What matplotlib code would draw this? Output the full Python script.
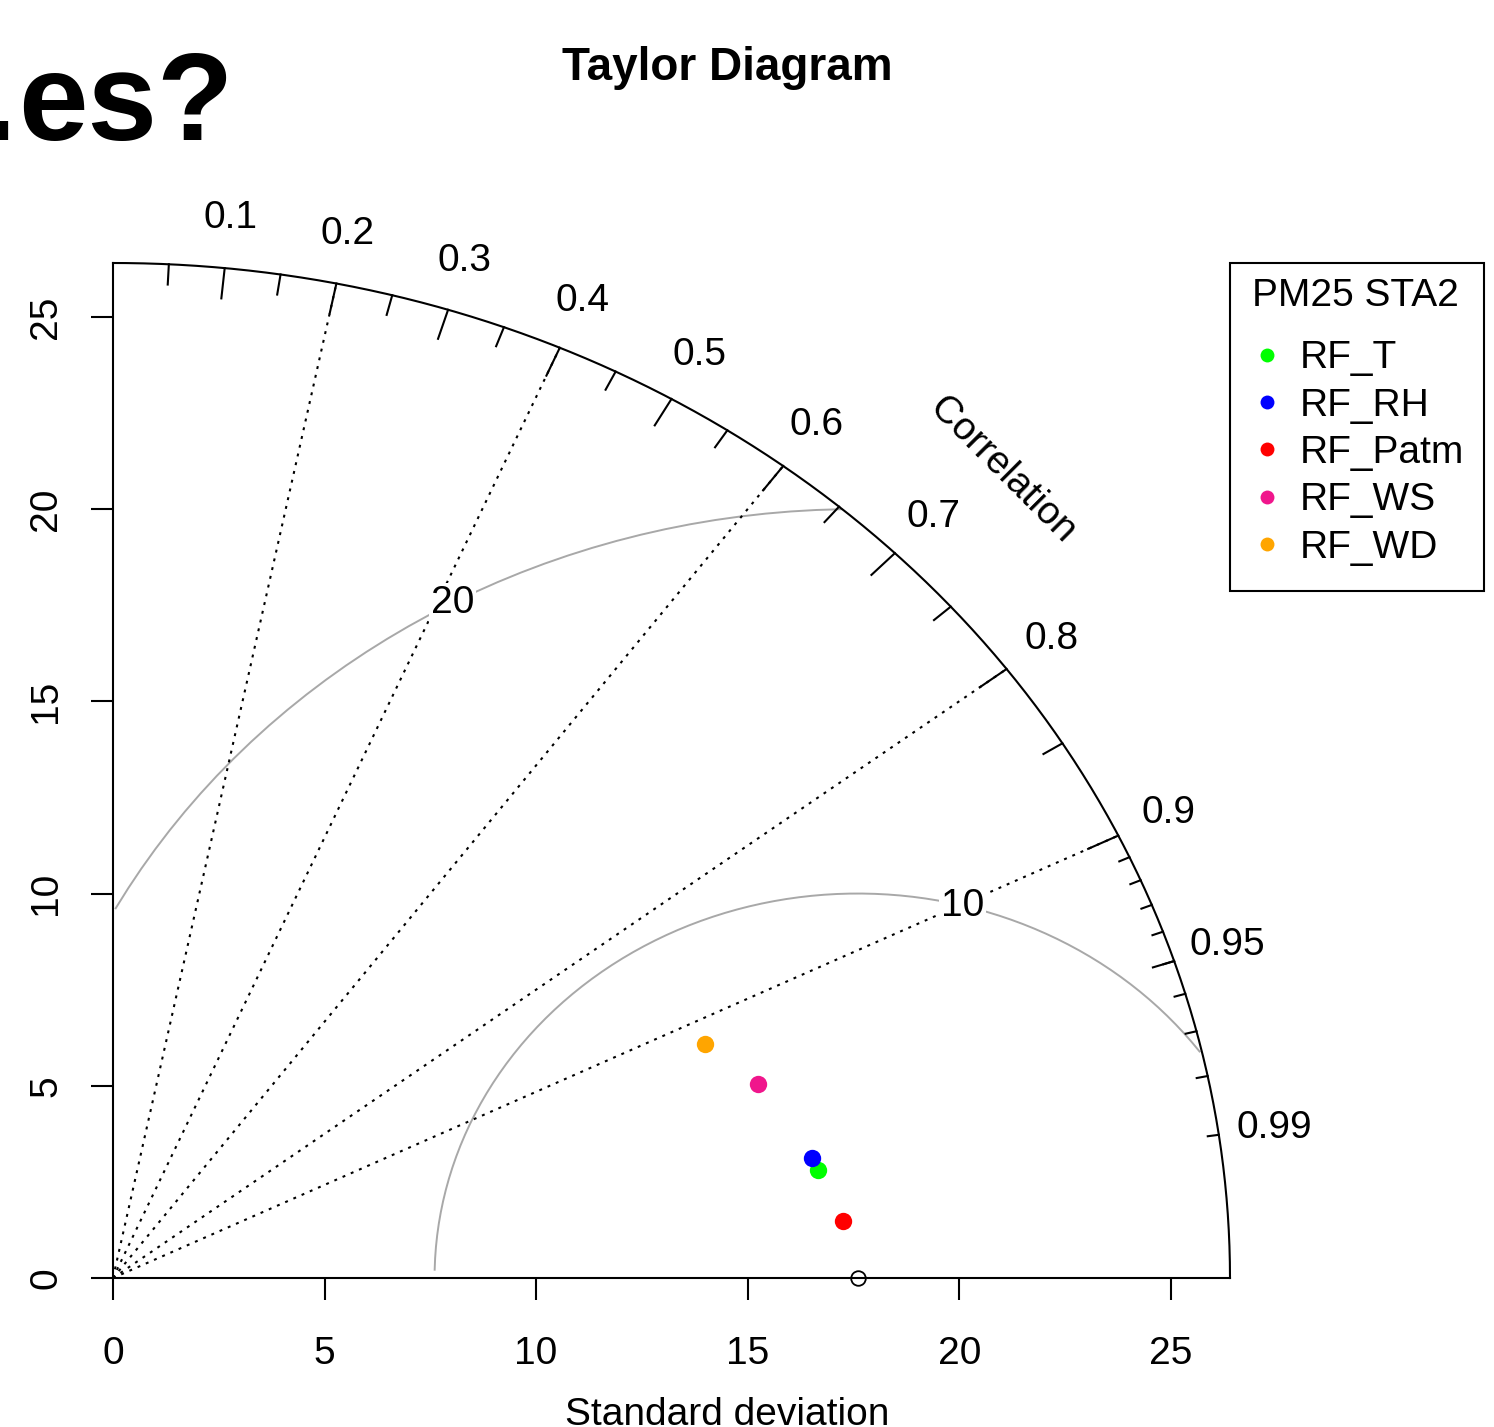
import numpy as np
import matplotlib
matplotlib.use('Agg')
import matplotlib.pyplot as plt
from matplotlib.lines import Line2D
from matplotlib.patches import Rectangle

plt.rcParams['font.family'] = ['Liberation Sans', 'DejaVu Sans']

# ---- data ----
models = ['RF_T', 'RF_RH', 'RF_Patm', 'RF_WS', 'RF_WD']
model_sd = [16.91, 16.82, 17.31, 16.05, 15.26]
model_corr = [0.986, 0.9827, 0.9963, 0.9493, 0.9167]
model_colors = ['#00FF00', '#0000FF', '#FF0000', '#F0168C', '#FFA500']
ref_sd = 17.6
legend_title = 'PM25 STA2'
sd_ticks = [0, 5, 10, 15, 20, 25]
corr_grid = [0.2, 0.4, 0.6, 0.8, 0.9]
corr_labels = [0.1, 0.2, 0.3, 0.4, 0.5, 0.6, 0.7, 0.8, 0.9, 0.95, 0.99]
big_ticks = [0.1, 0.2, 0.3, 0.4, 0.5, 0.6, 0.7, 0.8, 0.9]
med_ticks = [0.05, 0.15, 0.25, 0.35, 0.45, 0.55, 0.65, 0.75, 0.85, 0.95]
sml_ticks = [0.91, 0.92, 0.93, 0.94, 0.95, 0.96, 0.97, 0.98, 0.99]
rms_levels = [10, 20]
rms_label_idx = [44, 69]

W, H = 1494, 1427
fig = plt.figure(figsize=(W / 100, H / 100), dpi=100)
fig.patch.set_facecolor('white')

maxsd = 1.5 * ref_sd
FS = 28

ax = fig.add_axes([113 / W, (H - 1278) / H, (1230 - 113) / W, (1278 - 263) / H])
ax.set_xlim(0, maxsd)
ax.set_ylim(0, maxsd)
for s in ['top', 'right']:
    ax.spines[s].set_visible(False)
for s in ['left', 'bottom']:
    ax.spines[s].set_linewidth(1.5)
ax.set_xticks(sd_ticks)
ax.set_yticks(sd_ticks)
ax.tick_params(length=16, width=1.5, labelsize=FS)
ax.tick_params(axis='x', pad=26)
ax.tick_params(axis='y', pad=19)
for lab in ax.get_yticklabels():
    lab.set_rotation(90)
    lab.set_va('center')

# outer arc
th = np.linspace(0, np.pi / 2, 400)
ax.plot(maxsd * np.cos(th), maxsd * np.sin(th), color='black', lw=1.5, clip_on=False, zorder=3)

# correlation ticks
def tick(vals, frac):
    for c in vals:
        a = np.arccos(c)
        ax.plot([maxsd * np.cos(a), frac * maxsd * np.cos(a)],
                [maxsd * np.sin(a), frac * maxsd * np.sin(a)],
                color='black', lw=1.5, clip_on=False, zorder=3)
tick(big_ticks, 0.97)
tick(med_ticks, 0.98)
tick(sml_ticks, 0.99)

for c in corr_labels:
    a = np.arccos(c)
    ax.text(1.05 * maxsd * np.cos(a), 1.05 * maxsd * np.sin(a), str(c),
            ha='center', va='center', fontsize=FS, clip_on=False)

ax.text(0.8 * maxsd - 0.1, 0.8 * maxsd - 0.1, 'Correlation', rotation=-45,
        rotation_mode='anchor', ha='center', va='center', fontsize=FS)

# correlation radial lines
for c in corr_grid:
    ax.plot([0, maxsd * c], [0, maxsd * np.sqrt(1 - c * c)], color='black',
            lw=1.5, linestyle=(0, (1.4, 2.9)), clip_on=False, zorder=2)

# RMS arcs
ang = np.arange(0, np.pi, 0.03)
for g, lp in zip(rms_levels, rms_label_idx):
    xc = np.cos(ang) * g + ref_sd
    yc = np.sin(ang) * g
    neg = np.where(xc < 0)[0]
    end = neg.min() - 1 if len(neg) else len(ang) - 1
    out = np.where(xc * xc + yc * yc > maxsd * maxsd)[0]
    start = out.max() + 1 if len(out) else 0
    ax.plot(xc[start:end + 1], yc[start:end + 1], color='#a8a8a8', lw=1.4, zorder=1)
    ax.text(xc[lp], yc[lp], str(g), ha='center', va='center', fontsize=FS, zorder=4,
            bbox=dict(facecolor='white', edgecolor='none', pad=1.5))

# points
for sd, cr, col in zip(model_sd, model_corr, model_colors):
    ax.plot([sd * cr], [sd * np.sqrt(1 - cr * cr)], marker='o', ms=12.5, color=col,
            mew=0, linestyle='none', zorder=5, clip_on=False)
ax.plot([ref_sd], [0], marker='o', ms=10.5, mfc='none', mec='black', mew=1.3,
        linestyle='none', zorder=5, clip_on=False)

# labels
fig.text(727 / W, 1 - 1425 / H, 'Standard deviation', ha='center', va='baseline',
         fontsize=FS)

fig.text(727 / W, 1 - 68 / H, 'Taylor Diagram', ha='center', va='center',
         fontsize=33, fontweight='bold')

fig.text(18 / W, 1 - 140 / H, 'es?', ha='left', va='baseline', fontsize=90,
         fontweight='bold')
fig.text(16 / W, 1 - 140 / H, '.', ha='right', va='baseline', fontsize=90,
         fontweight='bold')

# legend
fig.text(1355 / W, 1 - 296 / H, legend_title, ha='center', va='center', fontsize=FS)
handles = [Line2D([], [], marker='o', color=c, ms=10, mew=0, linestyle='none')
           for c in model_colors]
leg = ax.legend(handles, models, loc='upper left',
                bbox_to_anchor=(1228 / W, 1 - 321 / H), bbox_transform=fig.transFigure,
                frameon=False, fontsize=FS, borderpad=0.5,
                handlelength=1.0, handletextpad=0.35, labelspacing=0.29, borderaxespad=0)
fig.patches.append(Rectangle((1230 / W, (H - 591) / H), 254 / W, 328 / H,
                             transform=fig.transFigure, fill=False, ec='black', lw=1.5))

fig.savefig('out.png', dpi=100, facecolor='white')
